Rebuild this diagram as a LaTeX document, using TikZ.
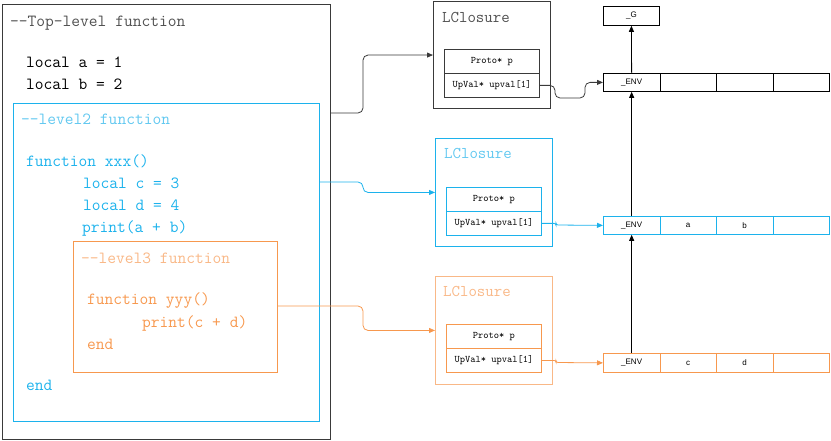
\documentclass[tikz,border=0pt]{standalone}
\usepackage{fontspec}
\setmainfont{Liberation Sans}
\usetikzlibrary{arrows.meta}

\definecolor{lblue}{HTML}{1CB2EC}
\definecolor{lbluesoft}{HTML}{62C8F0}
\definecolor{lorange}{HTML}{F7984E}
\definecolor{lorangesoft}{HTML}{F9B887}
\definecolor{framegray}{HTML}{3A3A3A}
\definecolor{commentgray}{HTML}{505050}

\tikzset{
  frame/.style={draw, line width=0.9pt, inner sep=0pt, anchor=north west},
  code/.style={font=\ttfamily\fontsize{17}{17}\selectfont, anchor=base west, inner sep=0pt},
  title/.style={font=\ttfamily\fontsize{16.4}{17}\selectfont, anchor=base west, inner sep=0pt},
  field/.style={draw, line width=0.8pt, inner sep=0pt, anchor=north west, minimum width=95pt,
    font=\ttfamily\fontsize{10}{10}\selectfont},
  cell/.style={draw, line width=0.8pt, inner sep=0pt, anchor=north west, minimum width=56.5pt,
    font=\fontsize{8}{9}\selectfont},
  conn/.style={-{Triangle[length=6pt,width=5pt]}, line width=0.8pt, rounded corners=5pt},
}

\begin{document}
\begin{tikzpicture}[x=1pt, y=-1pt]
\useasboundingbox (0,0) rectangle (831,441);

% ---------- source code boxes ----------
\node[frame, draw=framegray, minimum width=328pt, minimum height=434.5pt] (top) at (2,4.5) {};
\node[code, text=commentgray] (ctop) at (10,27) {--Top-level function};
\node[code] (la) at (26,68) {local a = 1};
\node[code] (lb) at (26,90) {local b = 2};

\node[frame, draw=lblue, minimum width=306pt, minimum height=318pt] (l2) at (13,103) {};
\node[code, text=lbluesoft] (cl2c) at (21,125) {--level2 function};
\node[code, text=lblue] (fx) at (26,167) {function xxx()};
\node[code, text=lblue] (lc) at (83,189) {local c = 3};
\node[code, text=lblue] (ld) at (83,211) {local d = 4};
\node[code, text=lblue] (pab) at (82,233) {print(a + b)};
\node[code, text=lblue] (e2) at (26,390) {end};

\node[frame, draw=lorange, minimum width=204pt, minimum height=131pt] (l3) at (73,241) {};
\node[code, text=lorangesoft] (cl3c) at (81,263) {--level3 function};
\node[code, text=lorange] (fy) at (87,304) {function yyy()};
\node[code, text=lorange] (pcd) at (142,327) {print(c + d)};
\node[code, text=lorange] (e3) at (87,349) {end};

% ---------- closures ----------
\node[frame, draw=framegray, line width=1.1pt, minimum width=117pt, minimum height=107pt] (cl1) at (433,1) {};
\node[title, text=commentgray] (t1) at (442,23) {LClosure};
\node[field, draw=framegray, minimum height=24pt] (p1) at (444,49) {Proto* p};
\node[field, draw=framegray, minimum height=24pt] (up1) at (444,73) {UpVal* upval[1]};

\node[frame, draw=lblue, minimum width=117pt, minimum height=108pt] (cl2) at (435,138) {};
\node[title, text=lbluesoft] (t2) at (444,159) {LClosure};
\node[field, draw=lblue, minimum height=24pt] (p2) at (446,187) {Proto* p};
\node[field, draw=lblue, minimum height=24pt] (up2) at (446,211) {UpVal* upval[1]};

\node[frame, draw=lorangesoft, minimum width=117pt, minimum height=108pt] (cl3) at (435,276) {};
\node[title, text=lorangesoft] (t3) at (443,297) {LClosure};
\node[field, draw=lorange, minimum height=24pt] (p3) at (446,324) {Proto* p};
\node[field, draw=lorange, minimum height=24pt] (up3) at (446,348) {UpVal* upval[1]};

% ---------- environment tables ----------
\node[cell, minimum width=56pt, minimum height=19pt] (G) at (603,6) {\_G};

\node[cell, minimum height=18pt] (env1a) at (603,73) {\_ENV};
\node[cell, minimum height=18pt] (env1b) at (659.5,73) {};
\node[cell, minimum height=18pt] (env1c) at (716,73) {};
\node[cell, minimum height=18pt] (env1d) at (772.5,73) {};

\node[cell, draw=lblue, minimum height=18pt] (env2a) at (603,216) {\_ENV};
\node[cell, draw=lblue, minimum height=18pt] (env2b) at (659.5,216) {a};
\node[cell, draw=lblue, minimum height=18pt] (env2c) at (716,216) {b};
\node[cell, draw=lblue, minimum height=18pt] (env2d) at (772.5,216) {};

\node[cell, draw=lorange, minimum height=19pt] (env3a) at (603,353) {\_ENV};
\node[cell, draw=lorange, minimum height=19pt] (env3b) at (659.5,353) {c};
\node[cell, draw=lorange, minimum height=19pt] (env3c) at (716,353) {d};
\node[cell, draw=lorange, minimum height=19pt] (env3d) at (772.5,353) {};

% ---------- connectors ----------
\draw[conn, framegray] (top.east |- 0,113) -- (363,113) |- (cl1.west);
\draw[conn, lblue] (l2.east |- 0,182) -- (363,182) |- (cl2.west);
\draw[conn, lorange] (l3.east |- 0,306) -- (363,306) |- (cl3.west);

\draw[conn, framegray] (up1.east) -| (555,98) -- (585,98) |- (env1a.west);
\draw[conn, lblue, rounded corners=2pt] (up2.east) -| (556,225) -- (env2a.west);
\draw[conn, lorange, rounded corners=2pt] (up3.east) -| (556,362.5) -- (env3a.west);

\draw[conn] (env3a.north) -- (env2a.south);
\draw[conn] (env2a.north) -- (env1a.south);
\draw[conn] (env1a.north) -- (G.south);
\end{tikzpicture}
\end{document}
